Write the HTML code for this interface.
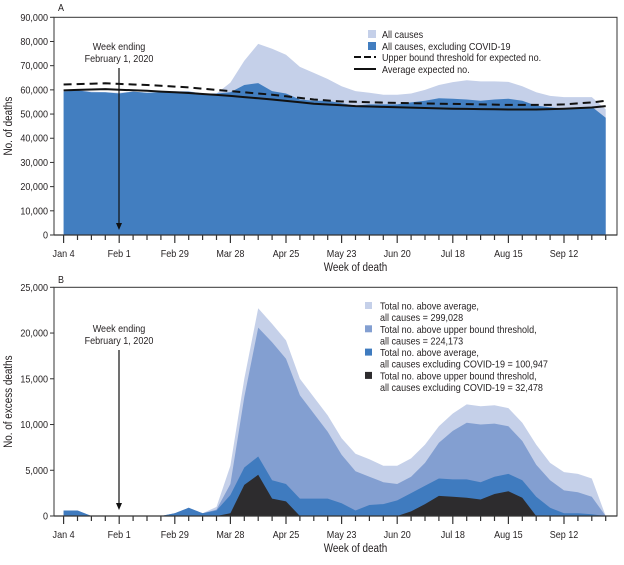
<!DOCTYPE html>
<html><head><meta charset="utf-8"><style>
html,body{margin:0;padding:0;background:#fff}
svg text{font-family:"Liberation Sans",sans-serif;font-size:10.5px;fill:#231f20}
</style></head><body>
<svg id="s" width="624" height="560" xmlns="http://www.w3.org/2000/svg"></svg>
<script>
const S=document.getElementById('s');let h='';
const X0=63.6,DX=13.9,L=54,R=617;
const x=i=>X0+i*DX;
function area(vals,y,col){let d='M'+x(0)+','+y(0);vals.forEach((v,i)=>d+='L'+x(i).toFixed(1)+','+y(v).toFixed(1));d+='L'+x(vals.length-1)+','+y(0)+'Z';h+=`<path d="${d}" fill="${col}"/>`;}
function line(vals,y,extra){let d='';vals.forEach((v,i)=>d+=(i?'L':'M')+x(i).toFixed(1)+','+y(v).toFixed(1));h+=`<path d="${d}" fill="none" stroke="#111" stroke-width="2" ${extra}/>`;}
function interp(pts){const o=[];for(let i=0;i<40;i++){for(let k=0;k<pts.length-1;k++){if(i>=pts[k][0]&&i<=pts[k+1][0]){const t=(i-pts[k][0])/(pts[k+1][0]-pts[k][0]);o.push(pts[k][1]+t*(pts[k+1][1]-pts[k][1]));break;}}}return o;}
function txt(x,y,s,a,cls){h+=`<text x="${x}" y="${y}" text-anchor="${a||'start'}" class="c ${cls||''}">${s}</text>`;}
function axes(top,bot,ymax,step,lab){
  const y=v=>bot-(v/ymax)*(bot-top);
  h+=`<rect x="${L}" y="${top}" width="${R-L}" height="${bot-top}" fill="none" stroke="#333" stroke-width="1"/>`;
  for(let v=0;v<=ymax;v+=step){h+=`<line x1="${L-4}" x2="${L}" y1="${y(v)}" y2="${y(v)}" stroke="#333"/>`;txt(L-6,y(v)+3.5,(v*1000).toLocaleString('en-US'),'end');}
  h+=`<line x1="${L}" x2="${R}" y1="${bot}" y2="${bot}" stroke="#333" stroke-width="1.2"/>`;
  const labs=['Jan 4','Feb 1','Feb 29','Mar 28','Apr 25','May 23','Jun 20','Jul 18','Aug 15','Sep 12'];
  for(let i=0;i<40;i++){const m=i%4==0;h+=`<line x1="${x(i)}" x2="${x(i)}" y1="${bot}" y2="${bot+(m?8:5)}" stroke="#333" stroke-width="1.2"/>`;if(m)txt(x(i),bot+22,labs[i/4],'middle');}
  txt((L+R)/2+20,bot+36,'Week of death','middle','big');
  h+=`<text x="12" y="${(top+bot)/2}" transform="rotate(-90 12 ${(top+bot)/2})" text-anchor="middle" class="c big">${lab}</text>`;
  return y;
}
function arrow(ya,yb){h+=`<line x1="119" x2="119" y1="${ya}" y2="${yb-5}" stroke="#111" stroke-width="1.2"/><path d="M116,${yb-7}L122,${yb-7}L119,${yb}Z" fill="#111"/>`;txt(119,ya-18,'Week ending','middle');txt(119,ya-6,'February 1, 2020','middle');}
// Panel A
{const top=17.3,bot=235,yA=v=>bot-(v/90)*(bot-top);
const all=[59.5,60,59.3,59,58.8,59.3,58.8,59,59.5,59.5,58.5,58.5,63,72,79,77,74.5,69.5,67,64.5,61.5,59.5,58.8,58,58,58.5,60,62,63.2,64,63.5,63.5,63.3,61.5,59,57.5,57,57,57,52];
const ex=[59.3,59.8,59,59,58.5,59.3,58.8,59,59.3,59.3,58.5,58.5,59,62,62.8,59.5,58.5,56,55.5,55.5,54.5,53.5,54,54,54,54.8,55.5,56.5,56.3,56,55.5,56,56.3,55.5,53.5,52.8,52.3,52.5,53,48.5];
area(all,yA,'#c5d0e9');area(ex,yA,'#427ec0');
line(interp([[0,62.2],[3,62.7],[6,62],[9,61],[12,59.5],[15,58],[18,56],[20,55.2],[24,54.6],[28,54.2],[32,53.8],[35,53.8],[36,54],[38,54.8],[39,55.5]]),yA,'stroke-dasharray="8,5"');
line(interp([[0,59.8],[3,60.3],[6,59.6],[9,58.7],[12,57.5],[15,56],[18,54.3],[21,53.3],[24,52.8],[28,52.2],[32,51.9],[34,51.9],[36,52.2],[38,52.7],[39,53.3]]),yA,'');
axes(top,bot,90,10,'No. of deaths');
arrow(68,230);
txt(58,11,'A');
h+=`<rect x="368" y="30" width="8" height="8" fill="#c5d0e9"/><rect x="368" y="42" width="8" height="8" fill="#427ec0"/>`;
h+=`<line x1="354" x2="376" y1="57" y2="57" stroke="#111" stroke-width="2" stroke-dasharray="7,3"/><line x1="354" x2="376" y1="69" y2="69" stroke="#111" stroke-width="2"/>`;
txt(382,38,'All causes');txt(382,50,'All causes, excluding COVID-19');txt(382,61,'Upper bound threshold for expected no.');txt(382,73,'Average expected no.');}
// Panel B
{const top=287.3,bot=516,yB=v=>bot-(v/25)*(bot-top);
const a=[0.6,0.6,0,0,0,0,0,0,0.3,0.9,0.3,1.0,5.5,15,22.7,21,19.2,15,13,11,8.5,6.8,6.2,5.5,5.5,6.3,7.8,9.8,11.2,12.2,12,12.1,11.8,10.2,7.8,5.8,4.8,4.6,4.1,0];
const b=[0.6,0.6,0,0,0,0,0,0,0.3,0.9,0.3,0.7,3.5,13,20.6,19,17.2,13.2,11.2,9.2,6.7,4.9,4.3,3.7,3.5,4.3,5.8,8,9.3,10.2,10,10.1,9.8,8.2,5.6,3.9,2.8,2.6,2.1,0];
const c=[0.6,0.6,0,0,0,0,0,0,0.3,0.9,0.3,0.6,2.3,5.3,6.5,3.9,3.5,1.9,1.9,1.9,1.4,0.6,1.2,1.3,1.7,2.5,3.3,4.1,4,4,3.7,4.3,4.6,3.9,2.1,0.9,0.3,0.3,0.2,0];
const d=[0,0,0,0,0,0,0,0,0,0,0,0,0.3,3.4,4.5,1.9,1.6,0,0,0,0,0,0,0,0,0.5,1.3,2.2,2.1,2,1.8,2.4,2.7,2,0,0,0,0,0,0];
area(a,yB,'#c5d0e9');area(b,yB,'#839fd1');area(c,yB,'#3f7bbf');area(d,yB,'#2d2c2e');
axes(top,bot,25,5,'No. of excess deaths');
arrow(350,510);
txt(58,283,'B');
const cols=['#c5d0e9','#839fd1','#3f7bbf','#2d2c2e'];
const l1=['Total no. above average,','Total no. above upper bound threshold,','Total no. above average,','Total no. above upper bound threshold,'];
const l2=['all causes = 299,028','all causes = 224,173','all causes excluding COVID-19 = 100,947','all causes excluding COVID-19 = 32,478'];
for(let i=0;i<4;i++){const yy=306+i*23.3;h+=`<rect x="365" y="${yy-4}" width="7" height="7" fill="${cols[i]}"/>`;txt(380,yy+3.5,l1[i]);txt(380,yy+15,l2[i]);}}
S.innerHTML=h;
S.querySelectorAll('text.c').forEach(t=>{if(t.classList.contains('big'))t.style.fontSize='11.5px';const w=t.getComputedTextLength();t.setAttribute('textLength',(w*0.86).toFixed(1));t.setAttribute('lengthAdjust','spacingAndGlyphs');});
</script>
</body></html>
